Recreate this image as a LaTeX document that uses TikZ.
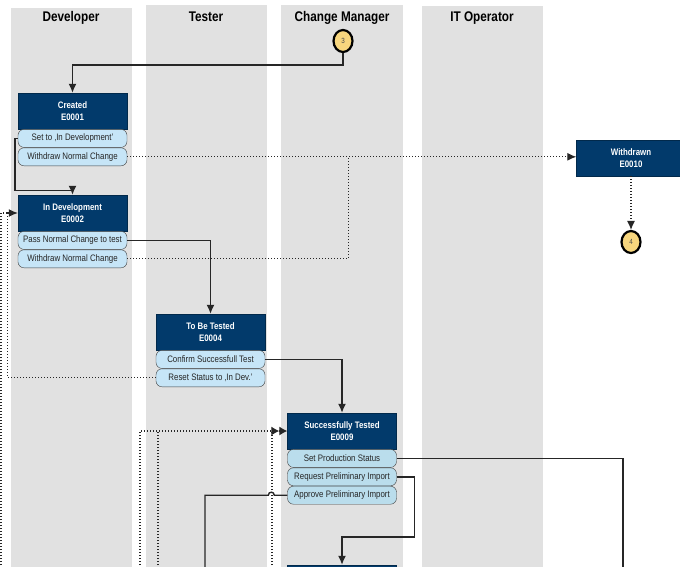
\documentclass[tikz,border=0pt]{standalone}
\usepackage{fontspec}
\setmainfont{Liberation Sans}[FakeStretch=0.84]
\usepackage{xcolor}
\usepackage{tikz}
\usetikzlibrary{positioning,arrows.meta,shapes.geometric}

\definecolor{lanegray}{HTML}{E1E1E1}
\definecolor{statenavy}{HTML}{023A6B}
\definecolor{actionblue}{HTML}{C6E5F7}
\definecolor{actionteal}{HTML}{BADDEC}
\definecolor{markeryellow}{HTML}{F7D67E}

\begin{document}
\begin{tikzpicture}[x=1pt,y=-1pt,
    lanetitle/.style={anchor=base, font=\fontsize{14}{16}\selectfont\bfseries},
    state/.style={fill=statenavy, draw=statenavy!70!black, text=white, minimum width=109pt, minimum height=36pt, inner sep=1pt, align=center, font=\fontsize{9.4}{12.5}\selectfont\bfseries},
    action/.style={fill=actionblue, draw=black!75, rounded corners=6pt, minimum width=109pt, minimum height=18pt, inner sep=1pt, text=black!85, font=\fontsize{9.4}{11}\selectfont},
    marker/.style={ellipse, fill=markeryellow, draw=black, line width=2.2pt, minimum width=19pt, minimum height=22pt, inner sep=0pt, text=black!70, font=\fontsize{7.5}{8}\selectfont},
    conn/.style={draw=black!85, line width=1.4pt, -{Latex[length=9pt,width=8pt]}},
    connplain/.style={draw=black!85, line width=1.4pt},
    alt/.style={draw=black!85, line width=1.1pt, dash pattern=on 1pt off 2pt},
    altarrow/.style={alt, -{Latex[length=9pt,width=8pt]}},
    altdouble/.style={alt, -{Latex[length=8pt,width=9pt]Latex[length=8pt,width=9pt]}}]
    \useasboundingbox (0,0) rectangle (680,566);
    \clip (0,0) rectangle (680,566);

    % Swim lanes
    \fill[lanegray] (11,8) rectangle (132,580);
    \fill[lanegray] (146,5) rectangle (267,580);
    \fill[lanegray] (281,5) rectangle (403,580);
    \fill[lanegray] (422,6) rectangle (543,580);
    \node[lanetitle] (devtitle) at (71,21) {Developer};
    \node[lanetitle] (testtitle) at (206,21) {Tester};
    \node[lanetitle] (cmtitle) at (342,21) {Change Manager};
    \node[lanetitle] (ittitle) at (482,21) {IT Operator};

    % Markers
    \node[marker] (mthree) at (343,41) {3};
    \node[marker] (mfour) at (631,242) {4};

    % States and their actions
    \node[state] (created) at (72.5,111) {Created\\E0001};
    \node[action, below=0pt of created] (setdev) {Set to ‚In Development’};
    \node[action, below=0pt of setdev] (wdcreated) {Withdraw Normal Change};

    \node[state] (indev) at (72.5,213) {In Development\\E0002};
    \node[action, below=0pt of indev] (passtest) {Pass Normal Change to test};
    \node[action, below=0pt of passtest] (wddev) {Withdraw Normal Change};

    \node[state] (tobetested) at (210.5,332) {To Be Tested\\E0004};
    \node[action, below=0pt of tobetested] (confirm) {Confirm Successfull Test};
    \node[action, below=0pt of confirm] (resetdev) {Reset Status to ‚In Dev.’};

    \node[state] (succtested) at (342,431) {Successfully Tested\\E0009};
    \node[action, fill=actionteal, below=0pt of succtested] (setprod) {Set Production Status};
    \node[action, fill=actionteal, below=0pt of setprod] (reqimport) {Request Preliminary Import};
    \node[action, fill=actionteal, below=0pt of reqimport] (appimport) {Approve Preliminary Import};

    \node[state] (withdrawn) at (631,158) {Withdrawn\\E0010};
    \node[state] (nextstate) at (342,583) {};

    % Ends leaving the page
    \coordinate (offleft) at (1,580);
    \coordinate (offa) at (140,580);
    \coordinate (offb) at (158,580);
    \coordinate (offc) at (272,580);
    \coordinate (offd) at (205,580);
    \coordinate (offe) at (623,580);

    % Solid transitions
    \draw[conn] (mthree.south) -- ++(0,12) -| (created.north);
    \draw[conn] (setdev.west) -- ++(-3,0) -- ++(0,52) -| (indev.north);
    \draw[conn] (passtest.east) -| (tobetested.north);
    \draw[conn] (confirm.east) -| (succtested.north);
    \draw[connplain] (setprod.east) -| (offe);
    \draw[conn] (reqimport.east) -- ++(18,0) -- ++(0,60) -| (nextstate.north);
    \draw[connplain] (appimport.west) -- ++(-13,0) .. controls +(0,-4) and +(0,-4) .. ++(-6,0) -| (offd);

    % Dotted transitions
    \draw[altarrow] (wdcreated.east) -- (wdcreated.east -| withdrawn.west);
    \draw[alt] (wddev.east) -- ++(221,0) -- ++(0,-102);
    \draw[altarrow] (withdrawn.south) -- (mfour.north);
    \draw[altarrow] (resetdev.west) -- ++(-148,0) |- (indev.west);
    \draw[alt] (offleft) -- (offleft |- indev.west) -- ++(7,0);
    \draw[altdouble] (offa) |- (succtested.west);
    \draw[alt] (offb) -- (offb |- succtested.west);
    \draw[alt] (offc) -- (offc |- succtested.west);
\end{tikzpicture}
\end{document}
